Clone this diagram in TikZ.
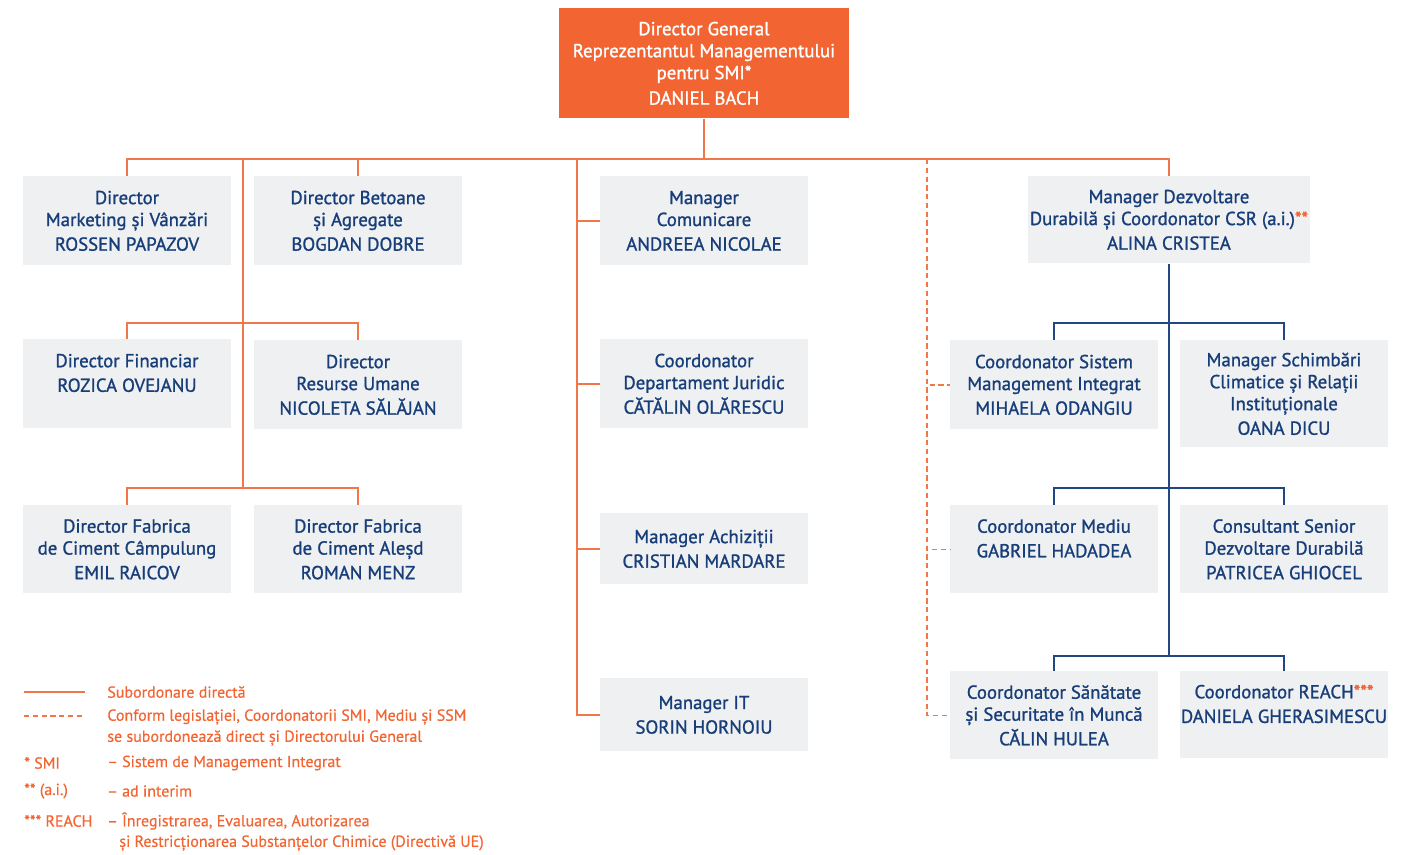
\documentclass[tikz,border=0pt]{standalone}
\usepackage{fontspec}
\setmainfont{PT Sans}
\newfontfamily\orgfont{PT Sans}[FakeBold=1.2]
\newfontfamily\keyfont{PT Sans}[FakeBold=0.6]
\usepackage{tikz}
\usetikzlibrary{positioning}
\definecolor{dgorange}{RGB}{242,101,50}
\definecolor{lineorange}{RGB}{241,118,74}
\definecolor{navy}{RGB}{24,62,122}
\definecolor{navyline}{RGB}{33,72,130}
\definecolor{boxgray}{RGB}{239,240,242}
\tikzstyle{head} =
[rectangle, anchor=north, minimum width = 5.8cm, minimum height = 2.2cm,
align=center, inner xsep=0pt, fill=dgorange, text=white,
font=\orgfont\fontsize{10.7}{12.5}\selectfont]
\tikzstyle{post} =
[rectangle, anchor=north, minimum width = 4.16cm, minimum height = 1.78cm,
align=center, inner xsep=0pt, fill=boxgray, text=navy,
font=\orgfont\fontsize{10.7}{12.5}\selectfont]
\tikzstyle{legend} =
[anchor=west, inner sep=0pt, text=dgorange, font=\keyfont\fontsize{9.1}{12}\selectfont]
\tikzstyle{direct} = [draw, lineorange, line width=0.8pt]
\tikzstyle{legal} = [draw, lineorange, line width=0.8pt, dash pattern=on 3pt off 2pt]
\tikzstyle{inner} = [draw, navyline, line width=0.8pt]
\newcommand{\stars}{\textcolor{dgorange}}

\begin{document}
\begin{tikzpicture}[x=0.02cm, y=-0.02cm]
  \useasboundingbox (0,0) rectangle (1416,855);
  % 1st level nodes
  \node [head] (dg) at (704,8)
   {Director General\\Reprezentantul Managementului\\pentru SMI*\\[2pt]DANIEL BACH};
  \node [post] (mkt) at (127,176)
   {Director\\Marketing și Vânzări\\[1.5pt]ROSSEN PAPAZOV};
  \node [post] (bet) at (358,176)
   {Director Betoane\\și Agregate\\[1.5pt]BOGDAN DOBRE};
  \node [post] (com) at (704,176)
   {Manager\\Comunicare\\[1.5pt]ANDREEA NICOLAE};
  \node [post, minimum width=5.64cm, minimum height=1.74cm] (dez) at (1169,176)
   {Manager Dezvoltare\\Durabilă și Coordonator CSR (a.i.)\stars{**}\\[1.5pt]ALINA CRISTEA};
  % left column
  \node [post] (fin) at (127,339)
   {Director Financiar\\[1.5pt]ROZICA OVEJANU\\\phantom{X}};
  \node [post] (hr) at (358,340)
   {Director\\Resurse Umane\\[1.5pt]NICOLETA SĂLĂJAN};
  \node [post, minimum height=1.76cm] (cmp) at (127,505)
   {Director Fabrica\\de Ciment Câmpulung\\[1.5pt]EMIL RAICOV};
  \node [post, minimum height=1.76cm] (ale) at (358,505)
   {Director Fabrica\\de Ciment Aleșd\\[1.5pt]ROMAN MENZ};
  % middle column
  \node [post] (jur) at (704,339)
   {Coordonator\\Departament Juridic\\[1.5pt]CĂTĂLIN OLĂRESCU};
  \node [post, minimum height=1.42cm] (ach) at (704,513)
   {Manager Achiziții\\[1.5pt]CRISTIAN MARDARE};
  \node [post, minimum height=1.46cm] (it) at (704,678)
   {Manager IT\\[1.5pt]SORIN HORNOIU};
  % right column
  \node [post] (smi) at (1054,340)
   {Coordonator Sistem\\Management Integrat\\[1.5pt]MIHAELA ODANGIU};
  \node [post, minimum height=2.14cm] (sch) at (1284,340)
   {Manager Schimbări\\Climatice și Relații\\Instituționale\\[1.5pt]OANA DICU};
  \node [post, minimum height=1.76cm] (med) at (1054,505)
   {Coordonator Mediu\\[1.5pt]GABRIEL HADADEA\\\phantom{X}};
  \node [post, minimum height=1.76cm] (cons) at (1284,505)
   {Consultant Senior\\Dezvoltare Durabilă\\[1.5pt]PATRICEA GHIOCEL};
  \node [post, minimum height=1.76cm] (ssm) at (1054,671)
   {Coordonator Sănătate\\și Securitate în Muncă\\[1.5pt]CĂLIN HULEA};
  \node [post, minimum height=1.74cm] (reach) at (1284,671)
   {Coordonator REACH\stars{***}\\[1.5pt]DANIELA GHERASIMESCU\\\phantom{X}};
  %
  % junctions
  \coordinate (bar) at (704,159);
  \coordinate (lt1) at (243,159);
  \coordinate (lt2) at (243,323);
  \coordinate (lt3) at (243,488);
  \coordinate (mt1) at (577,159);
  \coordinate (dt1) at (927,159);
  \coordinate (bt1) at (1169,323);
  \coordinate (bt2) at (1169,488);
  \coordinate (bt3) at (1169,656);
  % 1st level edges
  \path [direct] (dg) -- (bar);
  \path [direct] (mkt.north) |- (bar);
  \path [direct] (bet.north) |- (bar);
  \path [direct] (dez.north) |- (bar);
  \path [direct] (lt1) -- (lt3);
  \path [direct] (fin.north) |- (lt2);
  \path [direct] (hr.north) |- (lt2);
  \path [direct] (cmp.north) |- (lt3);
  \path [direct] (ale.north) |- (lt3);
  \path [direct] (mt1) |- (com);
  \path [direct] (mt1) |- (jur);
  \path [direct] (mt1) |- (ach);
  \path [direct] (mt1) |- (it);
  \path [legal] (dt1) |- (smi);
  \path [legal] (dt1) |- (med);
  \path [legal] (dt1) |- (ssm);%| vline
  % 2nd level edges
  \path [inner] (dez) -- (bt3);
  \path [inner] (smi.north) |- (bt1);
  \path [inner] (sch.north) |- (bt1);
  \path [inner] (med.north) |- (bt2);
  \path [inner] (cons.north) |- (bt2);
  \path [inner] (ssm.north) |- (bt3);
  \path [inner] (reach.north) |- (bt3);%| vline
  %
  % legend
  \path [direct] (24,692) -- (85,692);
  \path [legal] (24,716) -- (85,716);
  \node [legend] (l1) at (107,692) {Subordonare directă};
  \node [legend] (l2) at (107,717) {Conform legislației, Coordonatorii SMI, Mediu și SSM};
  \node [legend] (l2b) at (107,738) {se subordonează direct și Directorului General};
  \node [legend] (k3) at (24,763) {* SMI};
  \node [legend] (l3) at (107,763) {– Sistem de Management Integrat};
  \node [legend] (k4) at (24,791) {** (a.i.)};
  \node [legend] (l4) at (107,791) {– ad interim};
  \node [legend] (k5) at (24,821) {*** REACH};
  \node [legend] (l5) at (107,821) {– Înregistrarea, Evaluarea, Autorizarea};
  \node [legend] (l5b) at (119,843) {și Restricționarea Substanțelor Chimice (Directivă UE)};
\end{tikzpicture}
\end{document}
